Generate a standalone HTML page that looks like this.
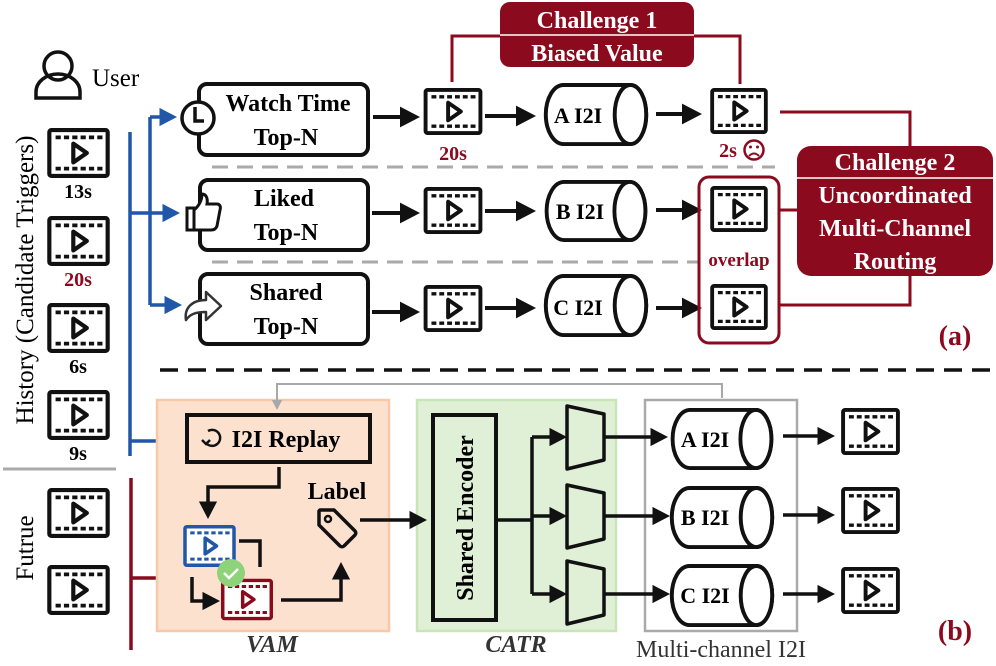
<!DOCTYPE html>
<html><head><meta charset="utf-8"><style>
html,body{margin:0;padding:0;background:#fff;}
svg text{font-family:"Liberation Serif","DejaVu Serif",serif;}
.b{font-weight:bold;}
</style></head><body>
<svg width="996" height="661" viewBox="0 0 996 661" xmlns="http://www.w3.org/2000/svg" font-family="Liberation Serif, serif">
<defs>
<symbol id="v" viewBox="0 0 60 48">
<rect x="2" y="2" width="56" height="44" rx="2" fill="#fff" stroke="currentColor" stroke-width="4"/>
<line x1="8" y1="9" x2="53" y2="9" stroke="currentColor" stroke-width="3.5" stroke-dasharray="5 3"/>
<line x1="8" y1="39" x2="53" y2="39" stroke="currentColor" stroke-width="3.5" stroke-dasharray="5 3"/>
<path d="M25 15 L25 33 L38 24 Z" fill="none" stroke="currentColor" stroke-width="4" stroke-linejoin="round"/>
</symbol>
<symbol id="cyl" viewBox="0 0 106 64">
<path d="M20 2 H88 A16 30 0 0 1 88 62 H20 A18 30 0 0 1 20 2 Z" fill="#fff" stroke="#111" stroke-width="4"/>
<ellipse cx="88" cy="32" rx="16" ry="30" fill="#fff" stroke="#111" stroke-width="4"/>
</symbol>
<marker id="ak" markerWidth="6" markerHeight="6" refX="3" refY="3" orient="auto" markerUnits="strokeWidth"><path d="M0 0.4 L5 3 L0 5.6 Z" fill="#111"/></marker>
<marker id="ab" markerWidth="6" markerHeight="6" refX="3" refY="3" orient="auto" markerUnits="strokeWidth"><path d="M0 0.4 L5 3 L0 5.6 Z" fill="#2057a8"/></marker>
<marker id="ar" markerWidth="6" markerHeight="6" refX="3" refY="3" orient="auto" markerUnits="strokeWidth"><path d="M0 0.4 L5 3 L0 5.6 Z" fill="#8b0a1e"/></marker>
<marker id="ag" markerWidth="6" markerHeight="6" refX="3" refY="3" orient="auto" markerUnits="strokeWidth"><path d="M0 0.4 L5 3 L0 5.6 Z" fill="#a8a8a8"/></marker>
</defs>

<!-- User -->
<circle cx="58" cy="66" r="14" fill="none" stroke="#111" stroke-width="3.5"/>
<path d="M36 98 V92 A22 18 0 0 1 80 92 V98 Z" fill="none" stroke="#111" stroke-width="3.5"/>
<text x="92" y="86" font-size="25">User</text>

<text transform="translate(33,280) rotate(-90)" font-size="25" text-anchor="middle">History (Candidate Triggers)</text>
<text transform="translate(33,548) rotate(-90)" font-size="25" text-anchor="middle">Futrue</text>
<line x1="3" y1="469" x2="116" y2="469" stroke="#aaa" stroke-width="3"/>

<g color="#111">
<use href="#v" x="47" y="128" width="63" height="50"/>
<use href="#v" x="47" y="216" width="63" height="50"/>
<use href="#v" x="47" y="303" width="63" height="50"/>
<use href="#v" x="47" y="390" width="63" height="50"/>
<use href="#v" x="47" y="488" width="63" height="50"/>
<use href="#v" x="47" y="565" width="63" height="50"/>
</g>
<g font-size="20" class="b" text-anchor="middle">
<text x="78" y="198">13s</text>
<text x="78" y="286" fill="#8b0a1e">20s</text>
<text x="78" y="373">6s</text>
<text x="78" y="460">9s</text>
</g>

<g stroke="#2057a8" stroke-width="3.5" fill="none">
<line x1="130" y1="132" x2="130" y2="456"/>
<path d="M130 213 H150"/>
<path d="M150 117 V305"/>
<path d="M150 117 H170" marker-end="url(#ab)"/>
<path d="M150 213 H173" marker-end="url(#ab)"/>
<path d="M150 305 H175" marker-end="url(#ab)"/>
<path d="M130 441 H172" marker-end="url(#ab)"/>
</g>
<g stroke="#8b0a1e" stroke-width="3.5" fill="none">
<line x1="131" y1="478" x2="131" y2="650"/>
<path d="M131 578 H170" marker-end="url(#ar)"/>
</g>

<g fill="#fff" stroke="#111" stroke-width="4">
<rect x="199" y="84" width="169" height="71" rx="8"/>
<rect x="200" y="180" width="168" height="70" rx="8"/>
<rect x="200" y="274" width="168" height="70" rx="8"/>
</g>
<circle cx="198" cy="118" r="16" fill="#fff" stroke="#111" stroke-width="3.5"/>
<path d="M195 107 V121 H204" fill="none" stroke="#111" stroke-width="3.5"/>
<path d="M187 208 h7 v22 h-7 z M194 210 c5 -4 8 -10 8 -16 c4 0 6 4 5 10 h10 c3 0 4 3 3 6 l-3 16 c-1 3 -3 4 -6 4 h-17" fill="#fff" stroke="#111" stroke-width="3"/>
<path d="M186 320 c-2 -12 6 -20 20 -20 v-8 l15 14 l-15 14 v-8 c-10 0 -16 2 -20 8 z" fill="#fff" stroke="#333" stroke-width="2.5" stroke-linejoin="round"/>

<g font-size="24" class="b" text-anchor="middle">
<text x="288" y="111">Watch Time</text>
<text x="286" y="145">Top-N</text>
<text x="284" y="206">Liked</text>
<text x="286" y="240">Top-N</text>
<text x="286" y="300">Shared</text>
<text x="286" y="334">Top-N</text>
</g>

<g stroke="#aaa" stroke-width="3" stroke-dasharray="16 9">
<line x1="212" y1="167" x2="775" y2="167"/>
<line x1="212" y1="262" x2="700" y2="262"/>
</g>

<g stroke="#111" stroke-width="4" fill="none" marker-end="url(#ak)">
<line x1="373" y1="117" x2="412" y2="117"/>
<line x1="372" y1="213" x2="412" y2="213"/>
<line x1="372" y1="312" x2="412" y2="312"/>
<line x1="485" y1="116" x2="528" y2="116"/>
<line x1="485" y1="211" x2="528" y2="211"/>
<line x1="485" y1="308" x2="528" y2="308"/>
<line x1="656" y1="114" x2="694" y2="114"/>
<line x1="656" y1="210" x2="694" y2="210"/>
<line x1="656" y1="308" x2="694" y2="308"/>
</g>
<g color="#111">
<use href="#v" x="423" y="88" width="60" height="47"/>
<use href="#v" x="423" y="187" width="60" height="47"/>
<use href="#v" x="423" y="285" width="60" height="47"/>
<use href="#v" x="709" y="88" width="60" height="46"/>
<use href="#v" x="709" y="186" width="60" height="46"/>
<use href="#v" x="709" y="284" width="60" height="46"/>
</g>
<text x="453" y="160" font-size="20" class="b" fill="#8b0a1e" text-anchor="middle">20s</text>
<use href="#cyl" x="543" y="83" width="106" height="63"/>
<use href="#cyl" x="543" y="180" width="106" height="62"/>
<use href="#cyl" x="543" y="274" width="106" height="63"/>
<g font-size="22" class="b" text-anchor="middle">
<text x="578" y="123">A I2I</text>
<text x="580" y="219">B I2I</text>
<text x="578" y="315">C I2I</text>
</g>
<text x="728" y="157" font-size="20" class="b" fill="#8b0a1e" text-anchor="middle">2s</text>
<circle cx="754" cy="150" r="9.5" fill="none" stroke="#8b0a1e" stroke-width="2.5"/>
<circle cx="750.5" cy="147" r="1.5" fill="#8b0a1e"/><circle cx="757.5" cy="147" r="1.5" fill="#8b0a1e"/>
<path d="M749 156 q5 -5 10 0" fill="none" stroke="#8b0a1e" stroke-width="2"/>

<g stroke="#8b0a1e" stroke-width="3" fill="none">
<rect x="699" y="177" width="80" height="166" rx="10"/>
<path d="M452 82 V36 H500"/>
<path d="M694 36 H740 V84"/>
<path d="M780 112 H910 V146"/>
<path d="M780 210 H797"/>
<path d="M910 276 V305 H780"/>
</g>
<text x="739" y="266" font-size="19" class="b" fill="#8b0a1e" text-anchor="middle">overlap</text>

<rect x="500" y="2" width="194" height="65" rx="10" fill="#8b0a1e"/>
<line x1="500" y1="35" x2="694" y2="35" stroke="#fff" stroke-width="1.5"/>
<text x="597" y="28" font-size="24" class="b" fill="#fff" text-anchor="middle">Challenge 1</text>
<text x="597" y="61" font-size="24" class="b" fill="#fff" text-anchor="middle">Biased Value</text>
<rect x="797" y="146" width="196" height="130" rx="14" fill="#8b0a1e"/>
<line x1="797" y1="178" x2="993" y2="178" stroke="#fff" stroke-width="1.5"/>
<g font-size="24" class="b" fill="#fff" text-anchor="middle">
<text x="895" y="170">Challenge 2</text>
<text x="895" y="203">Uncoordinated</text>
<text x="895" y="236">Multi-Channel</text>
<text x="895" y="269">Routing</text>
</g>
<text x="955" y="345" font-size="28" class="b" fill="#8b0a1e" text-anchor="middle">(a)</text>

<line x1="160" y1="370" x2="990" y2="370" stroke="#111" stroke-width="3.5" stroke-dasharray="18 10"/>

<rect x="157" y="400" width="232" height="231" fill="#fde1cf" stroke="#f8c9a8" stroke-width="2.5"/>
<rect x="417" y="400" width="199" height="231" fill="#dff0d6" stroke="#c8e5b8" stroke-width="2.5"/>
<rect x="645" y="400" width="152" height="231" fill="none" stroke="#aaa" stroke-width="2.5"/>
<path d="M722 398 V384 H277 V406" fill="none" stroke="#a8a8a8" stroke-width="2" marker-end="url(#ag)"/>

<rect x="187" y="415" width="183" height="47" fill="none" stroke="#111" stroke-width="4"/>
<path d="M208 431 a8 8 0 1 1 -2 12" fill="none" stroke="#111" stroke-width="2.5"/>
<path d="M202 440 l4 4 l4 -4" fill="none" stroke="#111" stroke-width="2.5"/>
<text x="286" y="447" font-size="24" class="b" text-anchor="middle">I2I Replay</text>

<g stroke="#111" stroke-width="3.5" fill="none">
<path d="M279 467 V487 H208 V512" marker-end="url(#ak)"/>
<path d="M239 541 H260 V567"/>
<path d="M192 577 V601 H213" marker-end="url(#ak)"/>
<path d="M281 600 H341 V569" marker-end="url(#ak)"/>
<path d="M360 520 H420" marker-end="url(#ak)"/>
</g>
<use href="#v" x="183" y="525" width="53" height="42" color="#2057a8"/>
<use href="#v" x="221" y="578" width="52" height="43" color="#8b0a1e"/>
<circle cx="231" cy="573" r="14" fill="#8ed27a"/>
<path d="M224 573 l5 5 l9 -9" fill="none" stroke="#fff" stroke-width="2.5"/>
<text x="337" y="499" font-size="24" class="b" text-anchor="middle">Label</text>
<path d="M320 510 h14 l21 21 a3 3 0 0 1 0 4 l-11 11 a3 3 0 0 1 -4 0 l-21 -21 v-14 z" fill="#fde1cf" stroke="#111" stroke-width="3.5" stroke-linejoin="round"/>
<circle cx="328" cy="519" r="3" fill="none" stroke="#111" stroke-width="2.5"/>
<text x="272" y="652" font-size="24" class="b" font-style="italic" text-anchor="middle" fill="#333">VAM</text>

<rect x="433" y="415" width="63" height="205" fill="none" stroke="#111" stroke-width="4"/>
<text transform="translate(473,518) rotate(-90)" font-size="24" class="b" text-anchor="middle">Shared Encoder</text>
<g stroke="#111" stroke-width="3.5" fill="none">
<path d="M496 520 H532"/>
<path d="M532 437 V594"/>
<path d="M532 437 H560" marker-end="url(#ak)"/>
<path d="M532 516 H560" marker-end="url(#ak)"/>
<path d="M532 594 H560" marker-end="url(#ak)"/>
<path d="M604 437 H661" marker-end="url(#ak)"/>
<path d="M604 516 H663" marker-end="url(#ak)"/>
<path d="M604 594 H663" marker-end="url(#ak)"/>
<path d="M783 436 H828" marker-end="url(#ak)"/>
<path d="M783 515 H828" marker-end="url(#ak)"/>
<path d="M783 594 H828" marker-end="url(#ak)"/>
</g>
<g fill="none" stroke="#111" stroke-width="3.5" stroke-linejoin="round">
<path d="M567 406 L604 414 V460 L567 469 Z"/>
<path d="M567 485 L604 493 V539 L567 548 Z"/>
<path d="M567 561 L604 569 V615 L567 624 Z"/>
</g>
<text x="516" y="652" font-size="24" class="b" font-style="italic" text-anchor="middle" fill="#333">CATR</text>
<use href="#cyl" x="668" y="408" width="108" height="62"/>
<use href="#cyl" x="668" y="486" width="108" height="63"/>
<use href="#cyl" x="668" y="564" width="108" height="63"/>
<g font-size="22" class="b" text-anchor="middle">
<text x="705" y="447">A I2I</text>
<text x="705" y="525">B I2I</text>
<text x="705" y="603">C I2I</text>
</g>
<g color="#111">
<use href="#v" x="841" y="408" width="59" height="47"/>
<use href="#v" x="841" y="487" width="59" height="47"/>
<use href="#v" x="841" y="567" width="59" height="47"/>
</g>
<text x="721" y="657" font-size="24" text-anchor="middle" fill="#333">Multi-channel I2I</text>
<text x="955" y="640" font-size="28" class="b" fill="#8b0a1e" text-anchor="middle">(b)</text>
</svg>
</body></html>
